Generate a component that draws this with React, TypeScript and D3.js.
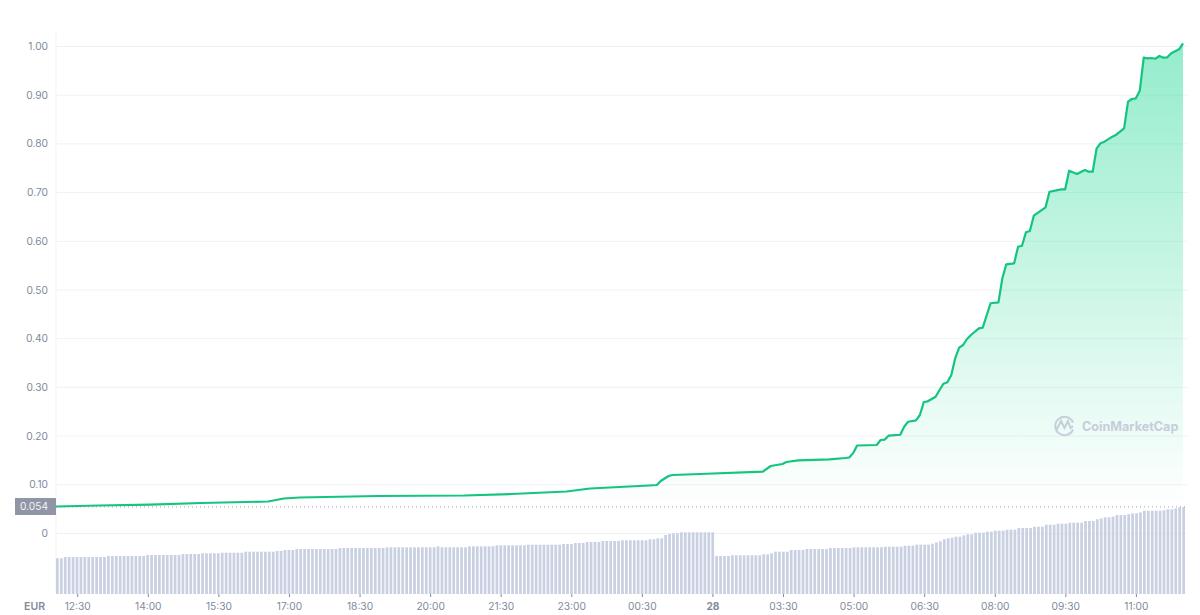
import React, { useRef, useEffect } from "react";
import * as d3 from "d3";

// price line vertices: 5 minute sample index and EUR value
const priceIndex = [
  0, 11, 24, 37, 54, 58, 62, 82, 104, 116, 130, 136, 151, 153, 154, 156, 157, 164, 180, 182, 185, 186, 189, 197, 201,
  202, 203, 204, 209, 210, 211, 212, 215, 216, 217, 219, 220, 221, 222, 224, 225, 226, 227, 228, 229, 230, 231, 232,
  233, 235, 236, 238, 240, 241, 242, 244, 245, 246, 247, 248, 249, 252, 253, 256, 257, 258, 260, 262, 263, 264, 265,
  266, 267, 269, 270, 272, 273, 274, 275, 276, 277, 278, 279, 280, 281, 282, 283, 284, 286, 287,
];
const priceValues = [
  0.0544, 0.0565, 0.0583, 0.0616, 0.0647, 0.0708, 0.0729, 0.076, 0.077, 0.0801, 0.0852, 0.0914, 0.0975, 0.0986, 0.1068,
  0.117, 0.1191, 0.1211, 0.1259, 0.1376, 0.1417, 0.1458, 0.1493, 0.1513, 0.154, 0.155, 0.164, 0.1797, 0.1807, 0.191,
  0.1916, 0.1998, 0.2018, 0.2183, 0.2285, 0.2314, 0.2423, 0.269, 0.2704, 0.2799, 0.2936, 0.3066, 0.3094, 0.3244, 0.3593,
  0.3805, 0.386, 0.3984, 0.4066, 0.4203, 0.4216, 0.4717, 0.4737, 0.523, 0.5517, 0.5538, 0.5879, 0.5899, 0.6174, 0.6201,
  0.6515, 0.6688, 0.7008, 0.7057, 0.7057, 0.7439, 0.7372, 0.7454, 0.7419, 0.7419, 0.7899, 0.8002, 0.8035, 0.8138,
  0.8179, 0.831, 0.8856, 0.8912, 0.8926, 0.9082, 0.976, 0.9747, 0.9754, 0.9739, 0.9795, 0.976, 0.9768, 0.985, 0.9932,
  1.0055,
];

// volume bars, one per 5 minutes, 12 to a row (no axis in the chart, relative units)
const volumeValues = [
  35.7, 35.7, 37, 37, 37, 37, 37, 37, 37, 37, 37, 37,
  37, 38, 38, 38, 38, 38, 38, 38, 38, 38, 38, 39,
  39, 39, 39, 39, 39, 39, 39, 39, 40, 40, 40, 40,
  40, 40.7, 40.7, 40.7, 40.7, 40.7, 41.3, 41.3, 41.3, 41.3, 41.3, 41.3,
  42.3, 42.3, 42.3, 42.3, 42.3, 42.3, 42.3, 42.3, 43, 43, 44, 44,
  44, 45, 45, 45, 45, 45, 45, 45, 45, 45, 45, 45,
  46, 46, 46, 46, 46, 46, 46, 46, 46, 46, 46, 46,
  46.7, 46.7, 46.7, 46.7, 46.7, 46.7, 46.7, 46.7, 46.7, 46.7, 46.7, 46.7,
  46.7, 47.7, 46.7, 46.7, 46.7, 46.7, 46.7, 46.7, 46.7, 47.7, 47.7, 47.7,
  47.7, 47.7, 47.7, 47.7, 48.7, 48.7, 48.7, 48.7, 48.7, 48.7, 48.7, 48.7,
  49.3, 49.3, 49.3, 49.3, 49.3, 49.3, 49.3, 49.3, 49.3, 50, 50, 50,
  51, 51, 51, 52, 52, 52, 52, 53, 53, 53, 53, 53,
  53.7, 53.7, 53.7, 53.7, 53.7, 53.7, 53.7, 54.7, 54.7, 55.7, 55.7, 59,
  60, 60.7, 60.7, 61.7, 61.7, 61.7, 61.7, 61.7, 61.7, 61.7, 61.7, 61.7,
  38, 38, 38, 38, 38.7, 38.7, 38.7, 38.7, 38.7, 38.7, 38.7, 38.7,
  39.7, 39.7, 40.7, 42.3, 42.3, 42.3, 42.3, 44, 44, 44, 44, 45,
  45, 45, 45, 45, 45, 46, 46, 46, 46, 46, 46, 46.7,
  46.7, 46.7, 46.7, 46.7, 46.7, 46.7, 46.7, 47.3, 47.3, 47.3, 47.3, 47.3,
  48.3, 48.3, 48.3, 49.3, 49.3, 49.3, 49.3, 50.3, 51.5, 52.7, 54.7, 55.7,
  56.3, 57.3, 57.3, 58.7, 59.7, 59.7, 61.3, 61.3, 61.3, 62.3, 62.3, 63.3,
  63.3, 63.3, 64.3, 64.3, 64.3, 66, 66, 66, 66, 67.3, 67.3, 67.3,
  69.3, 69.3, 69.3, 70.3, 70.3, 70.3, 71.3, 71.3, 71.3, 71.3, 73, 73,
  73, 74.7, 75.5, 76.7, 76.7, 77.5, 79, 79, 79, 79.8, 80.7, 80.7,
  81.5, 83.3, 83.3, 83.3, 83.3, 83.3, 83.7, 84.7, 84.7, 85.5, 86.7, 87,
];

const yTicks = [0, 0.1, 0.2, 0.3, 0.4, 0.5, 0.6, 0.7, 0.8, 0.9, 1];
// minutes after midnight of the first day
const timeTicks = [750, 840, 930, 1020, 1110, 1200, 1290, 1380, 1470, 1560, 1650, 1740, 1830, 1920, 2010, 2100];
const timeLabels = [
  "12:30", "14:00", "15:30", "17:00", "18:30", "20:00", "21:30", "23:00",
  "00:30", "28", "03:30", "05:00", "06:30", "08:00", "09:30", "11:00",
];
const startMinute = 722.3;
const endMinute = 2160.7;
const currentPrice = 0.054;

const width = 1200;
const height = 615;
const left = 56;
const right = 1184;

const font = "Inter, sans-serif";

const App: React.FC = () => {
  const svgRef = useRef<SVGSVGElement | null>(null);

  useEffect(() => {
    const svg = d3.select(svgRef.current);
    svg.selectAll("*").remove();

    const y = d3.scaleLinear().domain([0, 1]).range([533, 46]);
    const xSample = d3.scaleLinear().domain([0, 287]).range([left, right - 1]);
    const xTime = d3.scaleLinear().domain([startMinute, endMinute]).range([left, right]);
    const xBar = d3
      .scaleBand<number>()
      .domain(d3.range(volumeValues.length))
      .range([left, right + 1])
      .paddingInner(0.3)
      .paddingOuter(0);
    const yBar = d3.scaleLinear().domain([0, 100]).range([594, 494]);

    const defs = svg.append("defs");
    const grad = defs
      .append("linearGradient")
      .attr("id", "areaFill")
      .attr("gradientUnits", "userSpaceOnUse")
      .attr("x1", 0)
      .attr("x2", 0)
      .attr("y1", y(1.0055))
      .attr("y2", y(currentPrice));
    grad.append("stop").attr("offset", 0).attr("stop-color", "#16d78f").attr("stop-opacity", 0.46);
    grad.append("stop").attr("offset", 1).attr("stop-color", "#16d78f").attr("stop-opacity", 0.0);

    // axis edge
    svg
      .append("line")
      .attr("x1", left)
      .attr("x2", left)
      .attr("y1", 30)
      .attr("y2", 594)
      .attr("stroke", "#f1f3f6");

    // grid
    svg
      .append("g")
      .selectAll("line")
      .data(yTicks)
      .enter()
      .append("line")
      .attr("x1", left)
      .attr("x2", right + 3)
      .attr("y1", (d) => y(d) + 0.5)
      .attr("y2", (d) => y(d) + 0.5)
      .attr("stroke", "#eff2f5");

    // volume
    svg
      .append("g")
      .selectAll("rect")
      .data(volumeValues)
      .enter()
      .append("rect")
      .attr("x", (_, i) => xBar(i)!)
      .attr("width", xBar.bandwidth())
      .attr("y", (d) => yBar(d))
      .attr("height", (d) => yBar(0) - yBar(d))
      .attr("fill", "#c8d0e2");

    const samples = priceIndex.map((p, i) => ({ p, v: priceValues[i] }));

    const area = d3
      .area<{ p: number; v: number }>()
      .x((d) => xSample(d.p))
      .y0(y(currentPrice))
      .y1((d) => y(d.v));
    svg.append("path").datum(samples).attr("d", area).attr("fill", "url(#areaFill)");

    // current price
    svg
      .append("line")
      .attr("x1", left)
      .attr("x2", right + 3)
      .attr("y1", y(currentPrice) + 0.2)
      .attr("y2", y(currentPrice) + 0.2)
      .attr("stroke", "#a9a0aa")
      .attr("stroke-width", 1)
      .attr("stroke-dasharray", "1 3");

    const line = d3
      .line<{ p: number; v: number }>()
      .x((d) => xSample(d.p))
      .y((d) => y(d.v));
    svg
      .append("path")
      .datum(samples)
      .attr("d", line)
      .attr("fill", "none")
      .attr("stroke", "#14c47f")
      .attr("stroke-width", 2.2)
      .attr("stroke-linejoin", "round");

    // y labels
    svg
      .append("g")
      .selectAll("text")
      .data(yTicks)
      .enter()
      .append("text")
      .attr("x", 48)
      .attr("y", (d) => y(d) + 4)
      .attr("text-anchor", "end")
      .attr("font-family", font)
      .attr("font-size", 10.2)
      .attr("fill", "#808a9d")
      .text((d) => (d === 0 ? "0" : d.toFixed(2)));

    svg
      .append("rect")
      .attr("x", 15)
      .attr("y", 498)
      .attr("width", 41)
      .attr("height", 17)
      .attr("fill", "#9196a7");
    svg
      .append("text")
      .attr("x", 48)
      .attr("y", 510)
      .attr("text-anchor", "end")
      .attr("font-family", font)
      .attr("font-size", 10.2)
      .attr("fill", "#f2f3f6")
      .text(currentPrice.toFixed(3));

    // x ticks
    const xAxis = svg.append("g");
    timeTicks.forEach((t, i) => {
      xAxis
        .append("line")
        .attr("x1", xTime(t))
        .attr("x2", xTime(t))
        .attr("y1", 594)
        .attr("y2", 597)
        .attr("stroke", "#808a9d");
      xAxis
        .append("text")
        .attr("x", xTime(t))
        .attr("y", 610)
        .attr("text-anchor", "middle")
        .attr("font-family", font)
        .attr("font-size", 10.2)
        .attr("font-weight", timeLabels[i] === "28" ? 700 : 400)
        .attr("fill", "#808a9d")
        .text(timeLabels[i]);
    });

    svg
      .append("text")
      .attr("x", 45)
      .attr("y", 610)
      .attr("text-anchor", "end")
      .attr("font-family", font)
      .attr("font-size", 10.5)
      .attr("font-weight", 600)
      .attr("fill", "#808a9d")
      .text("EUR");

    // watermark
    const mark = svg.append("g").attr("transform", "translate(1054,415)").attr("fill", "none").attr("stroke", "#c5cedb");
    mark
      .append("path")
      .attr("stroke-width", 2)
      .attr("d", "M19 14.5 A9.2 9.2 0 1 1 19 7.5 M2.5 15 L7 6 L10.5 13 L14 6 L16.5 13 L19 11");
    svg
      .append("text")
      .attr("x", 1082)
      .attr("y", 431)
      .attr("font-family", font)
      .attr("font-size", 12.6)
      .attr("font-weight", 700)
      .attr("fill", "#c5cedb")
      .text("CoinMarketCap");
  }, []);

  return (
    <svg
      ref={svgRef}
      width={width}
      height={height}
      style={{ position: "absolute", left: 0, top: 0, background: "#fff" }}
    />
  );
};

export default App;
